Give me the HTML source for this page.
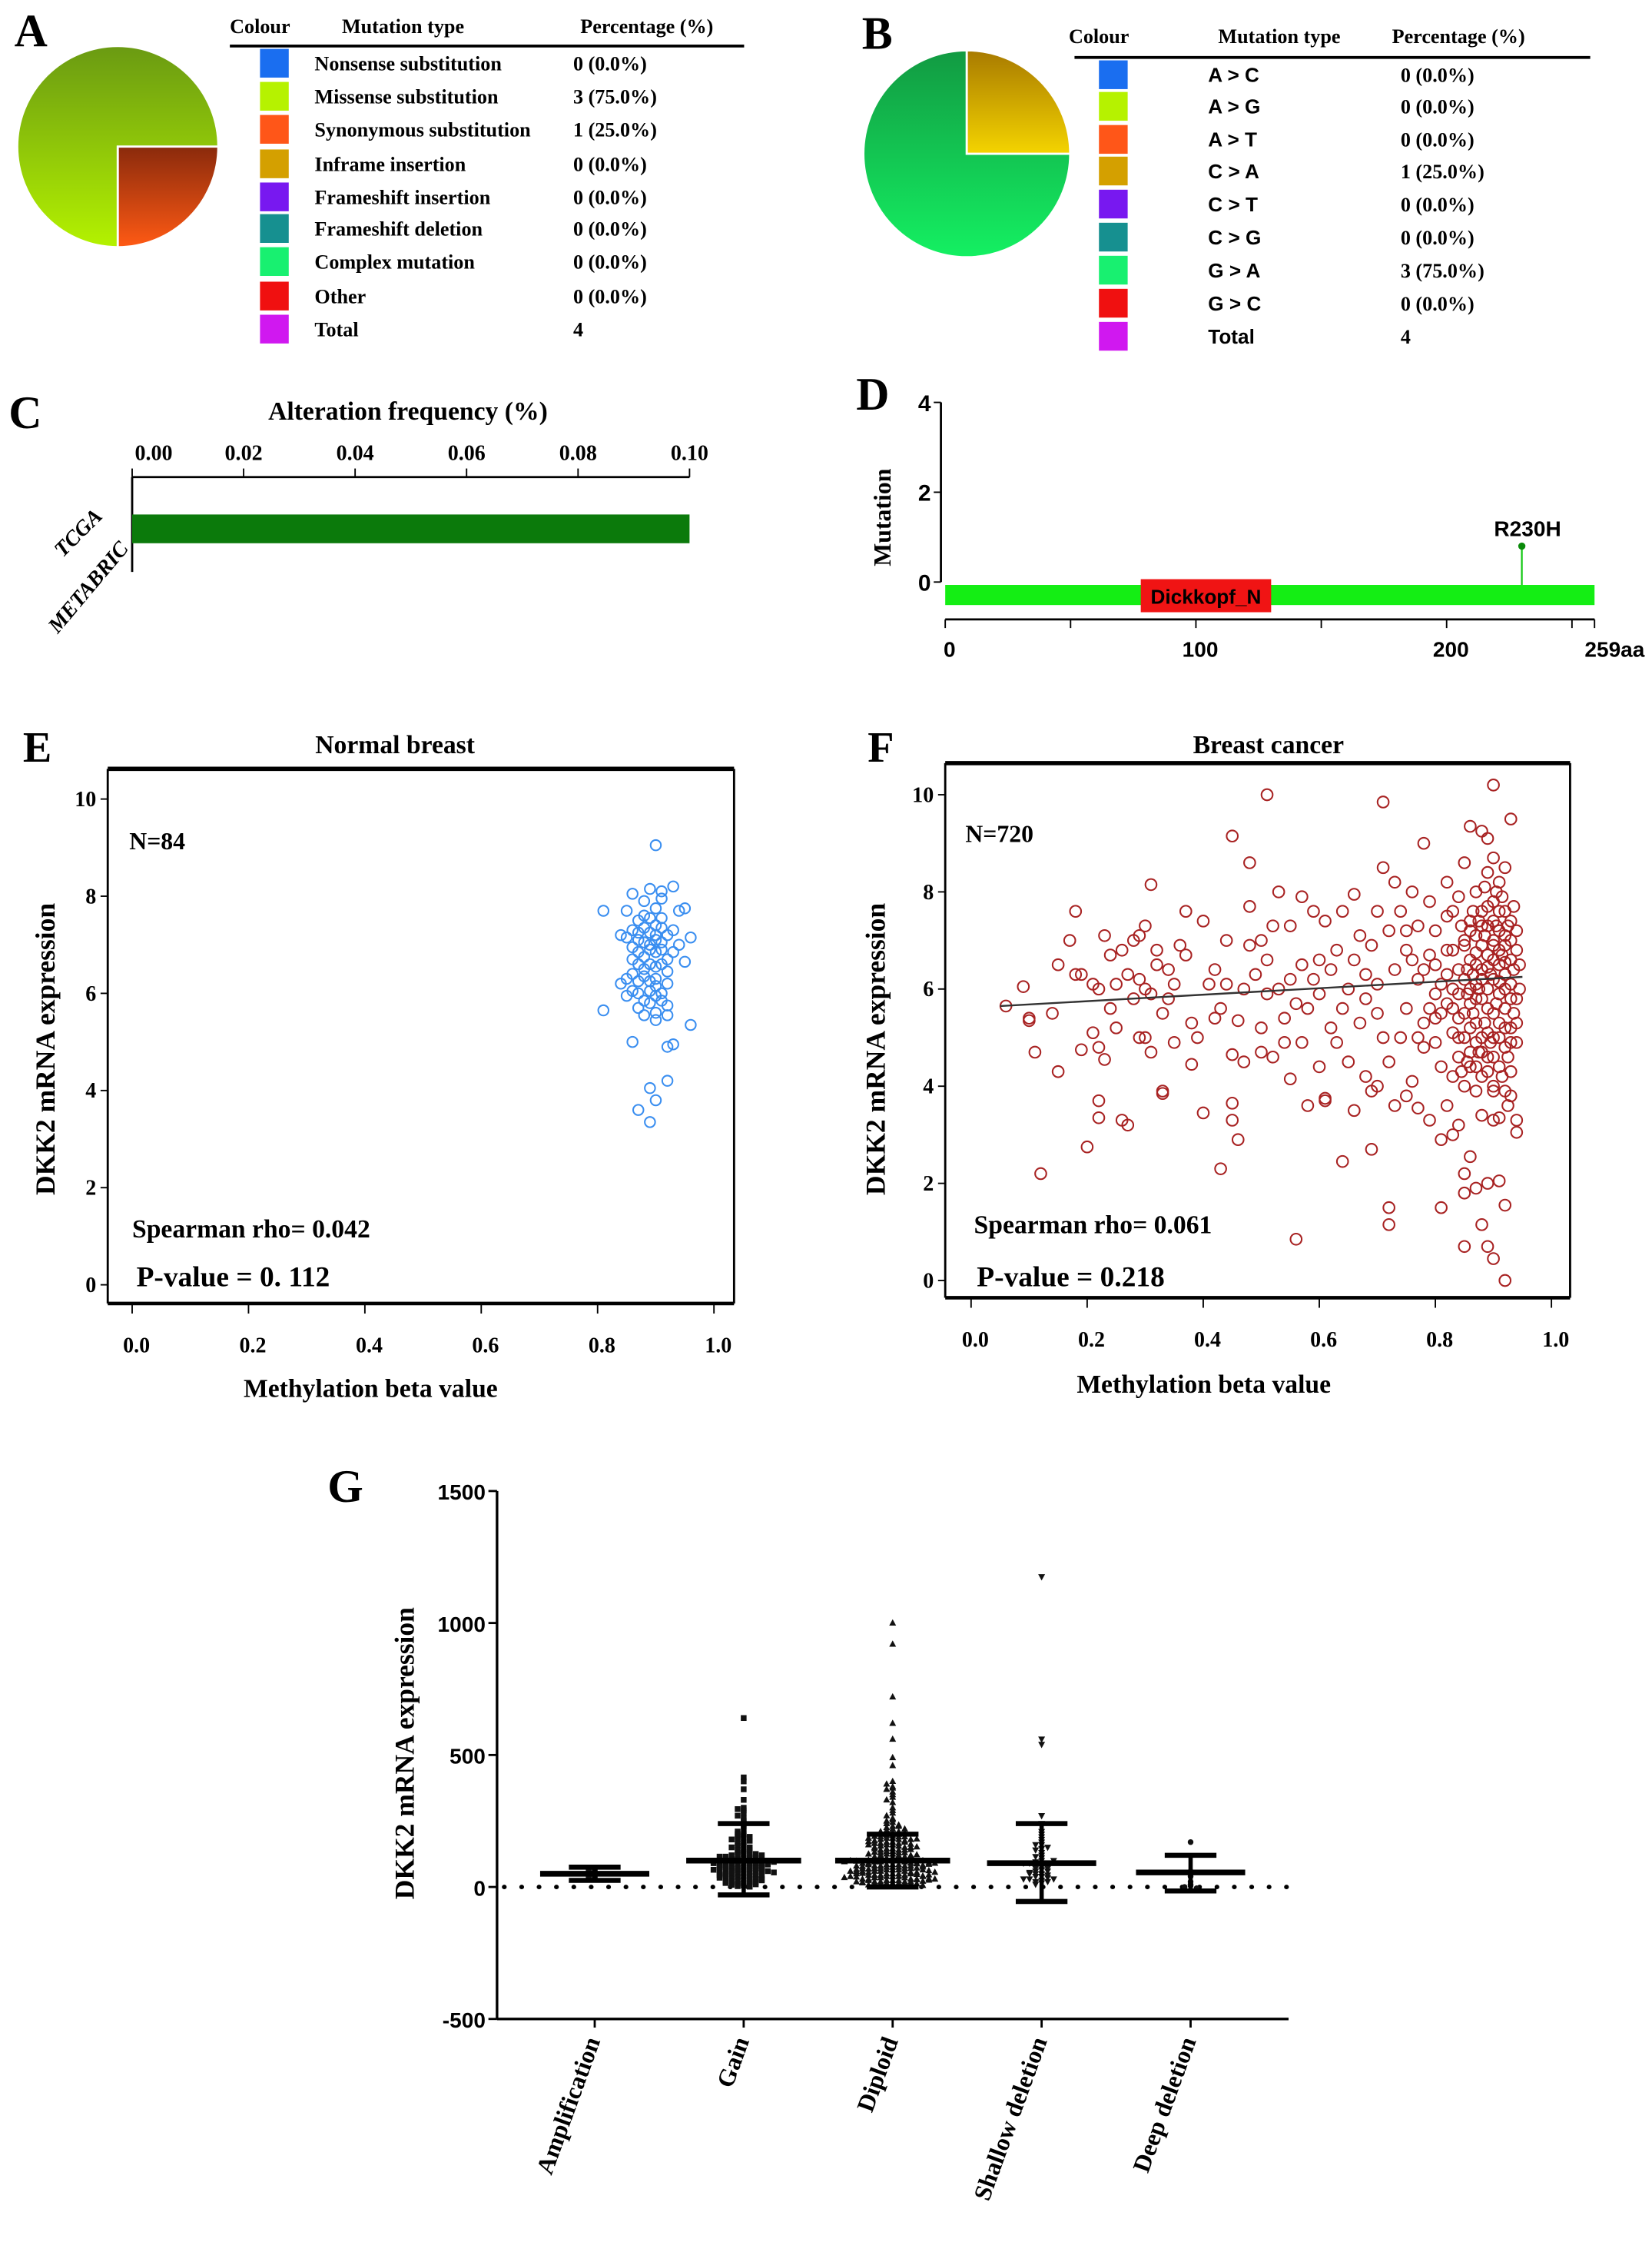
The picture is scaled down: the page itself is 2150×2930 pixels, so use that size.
<!DOCTYPE html>
<html><head><meta charset="utf-8"><style>
html,body{margin:0;padding:0;background:#fff;}
svg{display:block;}
.s{font-family:"Liberation Serif",serif;font-weight:bold;fill:#000;}
.a{font-family:"Liberation Sans",sans-serif;font-weight:bold;fill:#000;}
</style></head><body>
<svg id="fig" width="2150" height="2930" viewBox="0 0 1150 1567" preserveAspectRatio="none" xmlns="http://www.w3.org/2000/svg">
<defs>
<linearGradient id="gA1" x1="0" y1="0" x2="0" y2="1"><stop offset="0" stop-color="#6a9a12"/><stop offset="1" stop-color="#b4f200"/></linearGradient>
<linearGradient id="gA2" x1="0" y1="0" x2="0" y2="1"><stop offset="0" stop-color="#8a2a0c"/><stop offset="1" stop-color="#ff5a14"/></linearGradient>
<linearGradient id="gB1" x1="0" y1="0" x2="0" y2="1"><stop offset="0" stop-color="#129a42"/><stop offset="1" stop-color="#14f062"/></linearGradient>
<linearGradient id="gB2" x1="0" y1="0" x2="0" y2="1"><stop offset="0" stop-color="#a87a00"/><stop offset="1" stop-color="#f4d400"/></linearGradient>
</defs>

<g>
<text class="s" x="10" y="32" font-size="32">A</text>
<g id="pieA"></g>
<text class="s" x="160" y="23" font-size="14">Colour</text>
<text class="s" x="238" y="23" font-size="14">Mutation type</text>
<text class="s" x="404" y="23" font-size="14">Percentage (%)</text>
<line x1="160" y1="32" x2="518" y2="32" stroke="#000" stroke-width="2"/>
<g id="tabA"></g>
</g>

<g>
<text class="s" x="600" y="34" font-size="32">B</text>
<g id="pieB"></g>
<text class="s" x="744" y="30" font-size="14">Colour</text>
<text class="s" x="848" y="30" font-size="14">Mutation type</text>
<text class="s" x="969" y="30" font-size="14">Percentage (%)</text>
<line x1="748" y1="40" x2="1107" y2="40" stroke="#000" stroke-width="2"/>
<g id="tabB"></g>
</g>

<g id="panC">
<text class="s" x="6" y="298" font-size="32">C</text>
<text class="s" x="284" y="292" font-size="18" text-anchor="middle">Alteration frequency (%)</text>
</g>

<g id="panD">
<text class="s" x="596" y="285" font-size="32">D</text>
<text class="s" x="620" y="360" font-size="17" text-anchor="middle" transform="rotate(-90 620 360)">Mutation</text>
</g>

<g id="panE">
<text class="s" x="16" y="530" font-size="30">E</text>
<text class="s" x="275" y="524" font-size="18" text-anchor="middle">Normal breast</text>
<text class="s" x="38" y="730" font-size="19" text-anchor="middle" transform="rotate(-90 38 730)">DKK2 mRNA expression</text>
<text class="s" x="258" y="972" font-size="18" text-anchor="middle">Methylation beta value</text>
<text class="s" x="90" y="591" font-size="17">N=84</text>
<text class="s" x="92" y="861" font-size="18">Spearman rho= 0.042</text>
<text class="s" x="95" y="895" font-size="20">P-value = 0. 112</text>
</g>

<g id="panF">
<text class="s" x="604" y="530" font-size="30">F</text>
<text class="s" x="883" y="524" font-size="18" text-anchor="middle">Breast cancer</text>
<text class="s" x="616" y="730" font-size="19" text-anchor="middle" transform="rotate(-90 616 730)">DKK2 mRNA expression</text>
<text class="s" x="838" y="969" font-size="18" text-anchor="middle">Methylation beta value</text>
<text class="s" x="672" y="586" font-size="17">N=720</text>
<text class="s" x="678" y="858" font-size="18">Spearman rho= 0.061</text>
<text class="s" x="680" y="895" font-size="20">P-value = 0.218</text>
</g>

<g id="panG">
<text class="s" x="228" y="1045" font-size="32">G</text>
<text class="s" x="288" y="1220" font-size="19" text-anchor="middle" transform="rotate(-90 288 1220)">DKK2 mRNA expression</text>
</g>
</svg>

<script>
const typesA = ["Nonsense substitution","Missense substitution","Synonymous substitution","Inframe insertion","Frameshift insertion","Frameshift deletion","Complex mutation","Other","Total"];
const valuesA = ["0 (0.0%)","3 (75.0%)","1 (25.0%)","0 (0.0%)","0  (0.0%)","0  (0.0%)","0  (0.0%)","0 (0.0%)","4"];
const typesB = ["A > C","A > G","A > T","C > A","C > T","C > G","G > A","G > C","Total"];
const valuesB = ["0 (0.0%)","0 (0.0%)","0 (0.0%)","1 (25.0%)","0 (0.0%)","0 (0.0%)","3 (75.0%)","0 (0.0%)","4"];
const swatchColors = ["#1a6ef0","#b6f200","#ff5618","#d4a000","#7818f0","#169090","#18f070","#f01010","#d018f0"];
const pieShareA = [0.75, 0.25];
const pieShareB = [0.75, 0.25];

const cCategories = ["TCGA","METABRIC"];
const cValues = [0.0, 0.10];
const cTicks = [0.00,0.02,0.04,0.06,0.08,0.10];

const dYTicks = [0,2,4];
const dXTicks = [0,100,200,259];
const dMutPos = [230];
const dMutCount = [0.8];
const dMutLabel = ["R230H"];
const dDomain = [78, 130];

const eX = [0.90,0.81,0.86,0.88,0.89,0.91,0.93,0.91,0.85,0.87,0.89,0.91,0.94,0.95,0.86,0.88,0.89,0.90,0.92,0.93,0.85,0.87,0.88,0.89,0.90,0.91,0.96,0.84,0.86,0.87,0.88,0.90,0.91,0.89,0.87,0.88,0.90,0.91,0.95,0.86,0.85,0.88,0.89,0.90,0.92,0.84,0.86,0.87,0.89,0.90,0.91,0.85,0.88,0.89,0.91,0.92,0.87,0.90,0.90,0.81,0.96,0.86,0.92,0.93,0.89,0.92,0.87,0.90,0.89,0.92,0.88,0.90,0.86,0.93,0.87,0.90,0.92,0.88,0.91,0.89,0.94,0.87,0.90,0.92];
const eY = [9.05,7.7,8.05,7.9,8.15,8.1,8.2,7.95,7.7,7.5,7.55,7.55,7.7,7.75,7.3,7.35,7.25,7.2,7.2,7.3,7.15,7.1,7.05,7.0,7.1,7.05,7.15,7.2,6.95,6.85,6.75,6.85,6.9,6.6,6.6,6.5,6.55,6.6,6.65,6.4,6.3,6.35,6.25,6.3,6.2,6.2,6.05,6.0,6.05,5.95,6.0,5.95,5.85,5.8,5.85,5.75,5.7,5.6,5.45,5.65,5.35,5.0,4.9,4.95,4.05,4.2,3.6,3.8,3.35,6.45,7.6,7.4,6.7,6.85,7.25,6.15,5.55,5.55,7.35,6.9,7.0,6.25,7.75,6.7];
const scatterYTicks = [0,2,4,6,8,10];
const scatterXTicks = [0.0,0.2,0.4,0.6,0.8,1.0];

const fPairs = [.06,5.65,.09,6.05,.1,5.4,.1,5.35,.11,4.7,.12,2.2,.14,5.5,.15,6.5,.15,4.3,.17,7.0,.18,7.6,.18,6.3,.19,6.3,.19,4.75,.2,2.75,.21,6.1,.21,5.1,.22,4.8,.22,6.0,.22,3.7,.22,3.35,.23,4.55,.23,7.1,.24,6.7,.24,5.6,.25,6.1,.25,5.2,.26,6.8,.26,3.3,.27,3.2,.27,6.3,.28,7.0,.28,5.8,.29,6.2,.29,5.0,.29,7.1,.3,5.0,.3,6.0,.3,7.3,.31,8.15,.31,5.9,.31,4.7,.32,6.5,.32,6.8,.33,5.5,.33,3.9,.33,3.85,.34,6.4,.34,5.8,.35,4.9,.35,6.1,
.36,6.9,.37,7.6,.37,6.7,.38,5.3,.38,4.45,.39,5.0,.4,7.4,.4,3.45,.41,6.1,.42,5.4,.42,6.4,.43,2.3,.43,5.6,.44,7.0,.44,6.1,.45,4.65,.45,3.65,.45,3.3,.45,9.15,.46,2.9,.46,5.35,.47,6.0,.47,4.5,.48,8.6,.48,7.7,.48,6.9,.49,6.3,.5,5.2,.5,4.7,.5,7.0,.51,10.0,.51,6.6,.51,5.9,.52,7.3,.52,4.6,.53,6.0,.53,8.0,.54,5.4,.54,4.9,.55,7.3,.55,6.2,.55,4.15,.56,0.85,.56,5.7,.57,6.5,.57,7.9,.57,4.9,.58,3.6,.58,5.6,.59,6.2,.59,7.6,.6,4.4,.6,6.6,.6,5.9,.61,3.7,.61,3.75,.61,7.4,.62,5.2,.62,6.4,.63,4.9,.63,6.8,.64,2.45,.64,5.6,.64,7.6,.65,6.0,.65,4.5,.66,3.5,.66,6.6,.66,7.95,.67,5.3,.67,7.1,.68,4.2,.68,6.3,.68,5.8,.69,2.7,.69,3.9,.69,6.9,.7,4.0,.7,7.6,.7,5.5,.7,6.1,.71,5.0,.71,9.85,.71,8.5,.72,1.5,.72,1.15,.72,7.2,.72,4.5,.73,3.6,.73,6.4,.73,8.2,
.74,5.0,.74,7.6,.75,3.8,.75,6.8,.75,5.6,.76,4.1,.76,8.0,.77,6.2,.77,3.55,.77,7.3,.78,5.3,.78,4.8,.78,9.0,.79,3.3,.79,6.7,.79,7.8,.8,4.9,.8,5.9,.8,6.5,.8,7.2,.81,1.5,.81,2.9,.81,4.4,.81,5.5,.82,6.3,.82,3.6,.82,7.5,.82,8.2,.83,3.0,.83,4.2,.83,5.1,.83,6.0,.83,6.8,.84,3.2,.84,7.9,.84,5.4,.84,4.6,.85,0.7,.85,1.8,.85,2.2,.85,8.6,.85,6.2,.85,7.0,.85,5.0,.86,9.35,.86,4.4,.86,5.7,.86,6.6,.86,7.4,.86,2.55,.87,1.9,.87,3.9,.87,4.9,.87,6.1,.87,7.1,.87,8.0,.87,5.3,.88,9.25,.88,4.2,.88,5.8,.88,6.4,.88,6.9,.88,7.6,.88,3.4,.88,1.15,.89,0.7,.89,8.4,.89,5.1,.89,6.0,.89,6.7,.89,7.3,.89,4.6,.89,2.0,.89,9.1,.9,10.2,.9,8.7,.9,3.3,.9,4.0,.9,5.5,.9,6.2,.9,7.0,.9,7.8,.9,0.45,.91,2.05,.91,3.35,.91,4.4,.91,5.0,.91,5.9,.91,6.5,.91,7.2,.91,8.2,.92,0.0,.92,1.55,.92,3.9,.92,4.8,.92,5.6,.92,6.3,.92,6.9,.92,7.6,.92,8.5,.93,9.5,.93,3.8,.93,4.3,.93,5.2,.93,6.1,.93,6.6,.93,7.4,.94,3.3,.94,3.05,.94,4.9,.94,5.8,.94,6.8,.94,7.2,.94,5.3,.85,4.0,.86,6.0,.87,6.5,.88,5.0,.89,5.6,.9,6.6,.91,5.3,.92,6.0,.93,5.8,.9,4.6,.88,7.3,.86,4.7,.84,6.4,.83,7.6,.82,5.7,.87,5.8,.89,7.7,.91,6.8,.92,7.1,.9,5.0,
.88,6.2,.89,6.45,.9,6.9,.91,6.15,.92,6.55,.93,7.0,.87,6.75,.86,7.2,.85,6.9,.84,5.9,.9,7.4,.91,7.6,.92,5.2,.93,4.9,.88,4.7,.89,4.3,.9,3.9,.87,4.4,.86,5.2,.85,5.5,.84,5.0,.83,5.6,.82,6.8,.81,6.1,.8,5.4,.79,5.6,.78,6.4,.77,5.0,.76,6.6,.75,7.2,
.895,6.3,.905,5.7,.915,6.7,.925,4.6,.935,5.5,.885,7.1,.875,6.0,.865,5.5,.855,6.4,.845,7.3,.905,7.3,.915,4.2,.925,3.6,.935,6.4,.945,6.0,.885,5.3,.875,4.7,.865,7.6,.855,5.9,.845,4.3,.895,4.9,.905,8.0,.915,7.9,.925,7.3,.935,7.7,.945,6.5,.885,8.1,.875,7.4,.865,6.3,.855,4.5];
const fFitX = [0.05, 0.95];
const fFitY = [5.65, 6.25];

const gCategories = ["Amplification","Gain","Diploid","Shallow deletion","Deep deletion"];
const gMarkers = ["square","square","triangle","tridown","circle"];
const gMean = [50, 100, 100, 90, 55];
const gSdLow = [25, -30, 0, -55, -15];
const gSdHigh = [75, 240, 200, 240, 120];
const gAmp = [30,45,55,60,70,40,50];
const gGain = [640,415,400,370,330,300,295,290,280,270,260,250,240,230,220,210,200,195,190,185,180,175,170,165,160,155,150,145,140,135,130,125,120,115,110,105,100,98,95,92,90,88,85,82,80,78,75,72,70,68,65,62,60,58,55,52,50,48,45,42,40,38,35,32,30,28,25,22,20,18,15,12,10,8,5,3,1,130,120,110,100,90,80,70,60,50,40,30,20,10,150,140,125,115,105,95,85,75,65,55,45,35,25,15,100,90,80,70,60,180,190,200,110,120,95,85,75,65,55,45,105,115];
const gDiploid = [1000,920,720,620,560,490,460,400,390,380,375,370,360,350,340,330,320,300,290,280,270,260,255,250,245,240,235,230,225,220,215,210,205,200,200,195,195,190,190,185,185,180,180,175,175,170,170,165,165,160,160,155,155,150,150,145,145,140,140,135,135,130,130,125,125,120,120,115,115,110,110,105,105,100,100,100,95,95,95,90,90,90,85,85,85,80,80,80,75,75,75,70,70,70,65,65,65,60,60,60,55,55,55,50,50,50,45,45,45,40,40,40,35,35,35,30,30,30,25,25,25,20,20,20,15,15,15,10,10,10,5,5,5,2,2,2,210,190,170,150,130,110,90,70,50,30,10,200,180,160,140,120,100,80,60,40,20,230,220,205,185,165,145,125,105,85,65,45,25,8,98,88,78,68,58,48,38,28,18,112,122,132,142,152,162,172,182,192,102,92,82,72,62,52,42,32,22,12,100,90,80,70,60,50,40,30,20,96,86,76,66,56,46,36,26,16,6];
const gShallow = [1175,560,540,270,240,210,200,190,180,170,160,160,150,145,140,130,120,115,110,100,95,90,90,85,80,80,75,70,65,60,60,55,50,50,45,40,40,35,30,30,25,20,20,15,10,100,90,70,50,30];
const gDeep = [170,60,40,20,10,5,0,-5];
const gYTicks = [-500,0,500,1000,1500];

const NS = "http://www.w3.org/2000/svg";
function mk(tag, attrs, parent){const e=document.createElementNS(NS,tag);for(const k in attrs)e.setAttribute(k,attrs[k]);parent.appendChild(e);return e;}
function txt(s, attrs, parent){const e=mk("text",attrs,parent);e.textContent=s;return e;}

function pie(parentId, cx, cy, r, shares, fills, startAngle){
  const g=document.getElementById(parentId);
  let a=startAngle;
  shares.forEach((s,i)=>{
    const a2=a+s*2*Math.PI;
    const x1=cx+r*Math.cos(a),y1=cy+r*Math.sin(a),x2=cx+r*Math.cos(a2),y2=cy+r*Math.sin(a2);
    const large=s>0.5?1:0;
    const p=mk("path",{d:`M${cx},${cy} L${x1},${y1} A${r},${r} 0 ${large} 1 ${x2},${y2} Z`,fill:fills[i],stroke:"#fff","stroke-width":1.5},g);
    
    
    a=a2;
  });
}
pie("pieA",82,102,70,pieShareA,["url(#gA1)","url(#gA2)"],Math.PI/2);
pie("pieB",673,107,72,pieShareB,["url(#gB1)","url(#gB2)"],0);

function table(id, types, vals, rowY, swX, nameX, valX, cls){
  const g=document.getElementById(id);
  types.forEach((t,i)=>{
    const y=rowY[i];
    const r=mk("rect",{x:swX,y:y-10,width:20,height:20,fill:swatchColors[i]},g);
    
    
    const n=txt(t,{x:nameX,y:y+5,"font-size":14,class:cls},g);
    
    
    const v=txt(vals[i],{x:valX,y:y+5,"font-size":14,class:"s"},g);
    
    
  });
}
table("tabA",typesA,valuesA,[44,67,90,114,137,159,182,206,229],181,219,399,"s");
table("tabB",typesB,valuesB,[52,74,97,119,142,165,188,211,234],765,841,975,"a");

(function(){
  const g=document.getElementById("panC");
  const x0=92,x1=480, xs=v=>x0+(v-0)/(0.10)*(x1-x0);
  mk("line",{x1:x0,y1:332,x2:x1,y2:332,stroke:"#000","stroke-width":1.5},g);
  mk("line",{x1:x0,y1:332,x2:x0,y2:398,stroke:"#000","stroke-width":1.5},g);
  cTicks.forEach(t=>{
    const l=mk("line",{x1:xs(t),y1:326,x2:xs(t),y2:332,stroke:"#000","stroke-width":1},g);
    
    const tl=txt(t.toFixed(2),{x:xs(t)+(t===0?15:0),y:320,"font-size":15,"text-anchor":"middle",class:"s"},g);
    
    
  });
  const rowY=[345,368];
  cCategories.forEach((c,i)=>{
    if(cValues[i]>0){
      const b=mk("rect",{x:x0,y:rowY[i]-10,width:xs(cValues[i])-x0,height:20,fill:"#0b7a0b"},g);
      
      
    }
  });
  const t1=txt("TCGA",{x:72,y:360,"font-size":15,"text-anchor":"end",class:"s","font-style":"italic",transform:"rotate(-45 72 360)"},g);
  
  
  const t2=txt("METABRIC",{x:90,y:382,"font-size":15,"text-anchor":"end",class:"s","font-style":"italic",transform:"rotate(-50 90 382)"},g);
  
  
})();

(function(){
  const g=document.getElementById("panD");
  const xs=v=>658+v/259*(1110-658);
  const ys=v=>405-v*(405-280)/4;
  mk("line",{x1:655,y1:ys(4),x2:655,y2:ys(0),stroke:"#000","stroke-width":1.5},g);
  dYTicks.forEach(t=>{
    mk("line",{x1:650,y1:ys(t),x2:655,y2:ys(t),stroke:"#000"},g);
    const l=txt(String(t),{x:648,y:ys(t)+6,"font-size":16,"text-anchor":"end",class:"a"},g);
    
    
  });
  const bb=mk("rect",{x:xs(0),y:407,width:xs(259)-xs(0),height:14,fill:"#14ee14"},g);
  
  
  const dm=mk("rect",{x:xs(dDomain[0]),y:403,width:xs(dDomain[1])-xs(dDomain[0]),height:23,fill:"#f01414"},g);
  
  
  const dl=txt("Dickkopf_N",{x:(xs(dDomain[0])+xs(dDomain[1]))/2,y:420,"font-size":14,"text-anchor":"middle",class:"a"},g);
  
  
  dMutPos.forEach((p,i)=>{
    mk("line",{x1:xs(p),y1:407,x2:xs(p),y2:ys(dMutCount[i]),stroke:"#14c814","stroke-width":1.2},g);
    const c=mk("circle",{cx:xs(p),cy:ys(dMutCount[i]),r:2.5,fill:"#0a8a0a"},g);
    
    
    const l=txt(dMutLabel[i],{x:xs(p)+4,y:ys(dMutCount[i])-7,"font-size":15,"text-anchor":"middle",class:"a"},g);
    
    
  });
  mk("line",{x1:xs(0),y1:431,x2:xs(259),y2:431,stroke:"#000","stroke-width":1.5},g);
  [0,50,100,150,200,250,259].forEach(t=>{
    mk("line",{x1:xs(t),y1:431,x2:xs(t),y2:437,stroke:"#000"},g);
  });
  dXTicks.forEach(t=>{
    const l=txt(t===259?"259aa":String(t),{x:xs(t)+(t===259?14:3),y:457,"font-size":15,"text-anchor":"middle",class:"a"},g);
    
    
  });
})();

function scatter(id, box, xs, ys, xv, yv, color, r){
  const g=document.getElementById(id);
  const [L,T,R,B]=box;
  mk("line",{x1:L,y1:T,x2:R,y2:T,stroke:"#000","stroke-width":3},g);
  mk("line",{x1:R,y1:T,x2:R,y2:B,stroke:"#000","stroke-width":1.5},g);
  mk("line",{x1:L,y1:B,x2:R,y2:B,stroke:"#000","stroke-width":2.5},g);
  mk("line",{x1:L,y1:T,x2:L,y2:B,stroke:"#000","stroke-width":1.5},g);
  scatterYTicks.forEach(t=>{
    mk("line",{x1:L-5,y1:ys(t),x2:L,y2:ys(t),stroke:"#000"},g);
    const l=txt(String(t),{x:L-8,y:ys(t)+5,"font-size":15,"text-anchor":"end",class:"s"},g);
    
    
  });
  scatterXTicks.forEach(t=>{
    mk("line",{x1:xs(t),y1:B,x2:xs(t),y2:B+7,stroke:"#000"},g);
    const l=txt(t.toFixed(1),{x:xs(t)+3,y:B+34,"font-size":15,"text-anchor":"middle",class:"s"},g);
    
    
  });
  xv.forEach((x,i)=>{
    const c=mk("circle",{cx:xs(x),cy:ys(yv[i]),r:r,fill:"none",stroke:color,"stroke-width":1.1},g);
    
    
  });
}
const exs=v=>92+405*v, eys=v=>894-33.8*v;
scatter("panE",[75,535,511,907],exs,eys,eX,eY,"#3a8ef0",3.6);
const fxV=[],fyV=[];
for(let i=0;i<fPairs.length;i+=2){fxV.push(fPairs[i]);fyV.push(fPairs[i+1]);}
const fxs=v=>676+404*v, fys=v=>891-33.8*v;
scatter("panF",[658,531,1093,903],fxs,fys,fxV,fyV,"#a82222",3.9);
(function(){
  const g=document.getElementById("panF");
  const l=mk("line",{x1:fxs(fFitX[0]),y1:fys(fFitY[0]),x2:fxs(fFitX[1]),y2:fys(fFitY[1]),stroke:"#333","stroke-width":1.3},g);
  
  
})();

(function(){
  const g=document.getElementById("panG");
  const L=346,R=897;
  const ys=v=>1313-v*0.18367;
  const cx=i=>414+i*103.7;
  mk("line",{x1:L,y1:ys(1500),x2:L,y2:ys(-500),stroke:"#000","stroke-width":1.8},g);
  mk("line",{x1:L,y1:ys(-500),x2:R,y2:ys(-500),stroke:"#000","stroke-width":1.8},g);
  const zl=mk("line",{x1:L+5,y1:ys(0),x2:R,y2:ys(0),stroke:"#000","stroke-width":3.2,"stroke-dasharray":"0.1 12","stroke-linecap":"round"},g);
  
  gYTicks.forEach(t=>{
    mk("line",{x1:L-6,y1:ys(t),x2:L,y2:ys(t),stroke:"#000","stroke-width":1.5},g);
    const l=txt(String(t),{x:L-8,y:ys(t)+6,"font-size":15,"text-anchor":"end",class:"a"},g);
    
    
  });
  const sets=[gAmp,gGain,gDiploid,gShallow,gDeep];
  const halfW=[30,38,52,38,30];
  gCategories.forEach((c,i)=>{
    const x=cx(i);
    mk("line",{x1:x,y1:ys(-500),x2:x,y2:ys(-500)+6,stroke:"#000","stroke-width":1.5},g);
    const lab=txt(c,{x:x+4,y:1420,"font-size":17,"text-anchor":"end",class:"s",transform:`rotate(-70 ${x+4} 1420)`},g);
    
    
    const bins={};
    const sp=4.2;
    const maxPer=2*Math.floor(halfW[i]/sp)+1;
    sets[i].forEach(v=>{
      const b=Math.round(v/12);
      bins[b]=(bins[b]||0)+1;
      const k=(bins[b]-1)%maxPer;
      const wrap=Math.floor((bins[b]-1)/maxPer);
      const off=(k%2===0?1:-1)*Math.ceil(k/2)*sp + (wrap%2?sp/2:0);
      const px=x+off, py=ys(v)-wrap*1.5;
      let m;
      if(gMarkers[i]==="square") m=mk("rect",{x:px-2,y:py-2,width:4,height:4,fill:"#111"},g);
      else if(gMarkers[i]==="triangle") m=mk("path",{d:`M${px},${py-2.6} L${px+2.4},${py+1.8} L${px-2.4},${py+1.8} Z`,fill:"#111"},g);
      else if(gMarkers[i]==="tridown") m=mk("path",{d:`M${px},${py+2.6} L${px+2.4},${py-1.8} L${px-2.4},${py-1.8} Z`,fill:"#111"},g);
      else m=mk("circle",{cx:px,cy:py,r:2,fill:"#111"},g);
      
      
    });
    const w=[38,40,40,38,38][i];
    const mb=mk("line",{x1:x-w,y1:ys(gMean[i]),x2:x+w,y2:ys(gMean[i]),stroke:"#000","stroke-width":4},g);
    
    
    const eb=mk("line",{x1:x,y1:ys(gSdLow[i]),x2:x,y2:ys(gSdHigh[i]),stroke:"#000","stroke-width":3},g);
    
    
    [gSdLow[i],gSdHigh[i]].forEach(v=>{
      const cp=mk("line",{x1:x-18,y1:ys(v),x2:x+18,y2:ys(v),stroke:"#000","stroke-width":3.5},g);
      
      
    });
  });
})();
</script>
</body></html>
